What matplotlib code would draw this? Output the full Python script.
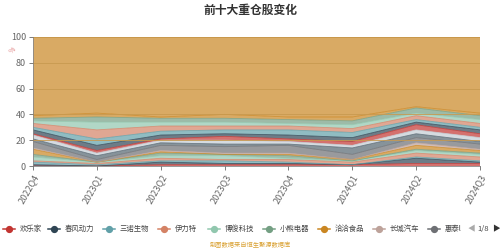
import matplotlib
matplotlib.use('Agg')
from matplotlib import pyplot as plt
from matplotlib.lines import Line2D

plt.rcParams['font.family'] = ['Noto Sans CJK SC', 'DejaVu Sans']

# quarters on the x axis
quarters = ['2022Q4', '2023Q1', '2023Q2', '2023Q3', '2023Q4', '2024Q1', '2024Q2', '2024Q3']

# holding weight (%) of each stock, stacked from the bottom up
stocks = ['欢乐家', '春风动力', '三诺生物', '伊力特', '博俊科技', '小熊电器', '洽洽食品', '长城汽车', '惠泰医疗',
          '今世缘', '宁德时代', '贵州茅台', '比亚迪', '迈瑞医疗', '美的集团', '海尔智家', '五粮液', '泸州老窖']
weights = [
    [0, 0, 1, 1, 1, 1, 2, 2],
    [1, 0, 2, 1, 1, 0, 4, 1],
    [2, 1, 1, 2, 1, 0, 1, 1],
    [1, 1, 2, 1, 2, 2, 3, 3],
    [3, 1, 2, 3, 1, 1, 2, 2],
    [2, 0, 2, 1, 2, 0, 1, 1],
    [4, 0, 1, 0, 1, 1, 3, 2],
    [1, 0, 1, 1, 1, 0, 2, 1],
    [5, 2, 4, 5, 6, 4, 4, 4],
    [2, 3, 2, 2, 1, 5, 3, 2],
    [3, 2, 2, 3, 2, 2, 3, 3],
    [1, 2, 1, 3, 2, 3, 4, 3],
    [3, 4, 3, 2, 3, 3, 2, 3],
    [2, 5, 3, 3, 4, 4, 2, 2],
    [3, 7, 4, 3, 3, 3, 3, 3],
    [2, 6, 3, 3, 2, 3, 2, 3],
    [2, 4, 3, 3, 3, 3, 4, 3],
    [2, 3, 1, 3, 2, 3, 1, 2],
]
# everything outside the top ten
others = [61, 59, 62, 60, 62, 62, 54, 59]

palette = ['#c23531', '#2f4554', '#61a0a8', '#d48265', '#91c7ae', '#749f83', '#ca8622', '#bda29a',
           '#6e7074', '#546570', '#c4ccd3']
colors = [palette[i % len(palette)] for i in range(len(stocks))]

fig = plt.figure(figsize=(5, 2.5), dpi=100)
ax = fig.add_axes([0.066, 0.336, 0.894, 0.516])

x = list(range(len(quarters)))
ax.stackplot(x, *weights, others, colors=colors + ['#ca8622'], alpha=0.7, linewidth=0)
# thin edge line on top of each layer
base = [0] * len(x)
for w, c in zip(weights + [others], colors + ['#ca8622']):
    base = [b + v for b, v in zip(base, w)]
    ax.plot(x, base, color=c, lw=0.6, alpha=0.8)

ax.set_xlim(0, len(x) - 1)
ax.set_ylim(0, 100)
ax.set_yticks([0, 20, 40, 60, 80, 100])
ax.set_xticks(x)
ax.set_xticklabels(quarters, rotation=60, ha='right', rotation_mode='anchor')
ax.tick_params(labelsize=6.5, colors='#666666', length=3, width=0.6, pad=2)
ax.yaxis.grid(True, color='#c89a50', lw=0.6)
ax.set_axisbelow(False)
for s in ['top', 'right']:
    ax.spines[s].set_visible(False)
for s in ['left', 'bottom']:
    ax.spines[s].set_color('#888888')
    ax.spines[s].set_linewidth(0.6)

fig.text(0.5, 0.96, '前十大重仓股变化', ha='center', va='center', fontsize=8.5, fontweight='bold', color='#333333')
fig.text(0.026, 0.80, '%', ha='center', va='center', fontsize=5, color='#e08080', rotation=45)

# legend, first page only
legend_names = stocks[:8] + ['惠泰l']
legend_x = [3, 48, 103, 158, 208, 263, 318, 373, 428]
ly = 0.084
for name, c, px in zip(legend_names, colors, legend_x):
    x0 = px / 500
    fig.add_artist(Line2D([x0, x0 + 0.024], [ly, ly], color=c, lw=1.1, transform=fig.transFigure))
    fig.add_artist(Line2D([x0 + 0.012], [ly], color=c, marker='o', markersize=4.2, transform=fig.transFigure))
    fig.text(x0 + 0.034, ly, name, ha='left', va='center', fontsize=5.3, color='#444444')
fig.text(0.942, ly, '◀', ha='center', va='center', fontsize=5.5, color='#aaaaaa')
fig.text(0.966, ly, '1/8', ha='center', va='center', fontsize=5.5, color='#444444')
fig.text(0.991, ly, '▶', ha='center', va='center', fontsize=5.5, color='#333333')
fig.text(0.5, 0.018, '制图数据来自恒生聚源数据库', ha='center', va='center', fontsize=4.5, color='#d9a030')

fig.savefig('out.png', dpi=100)
